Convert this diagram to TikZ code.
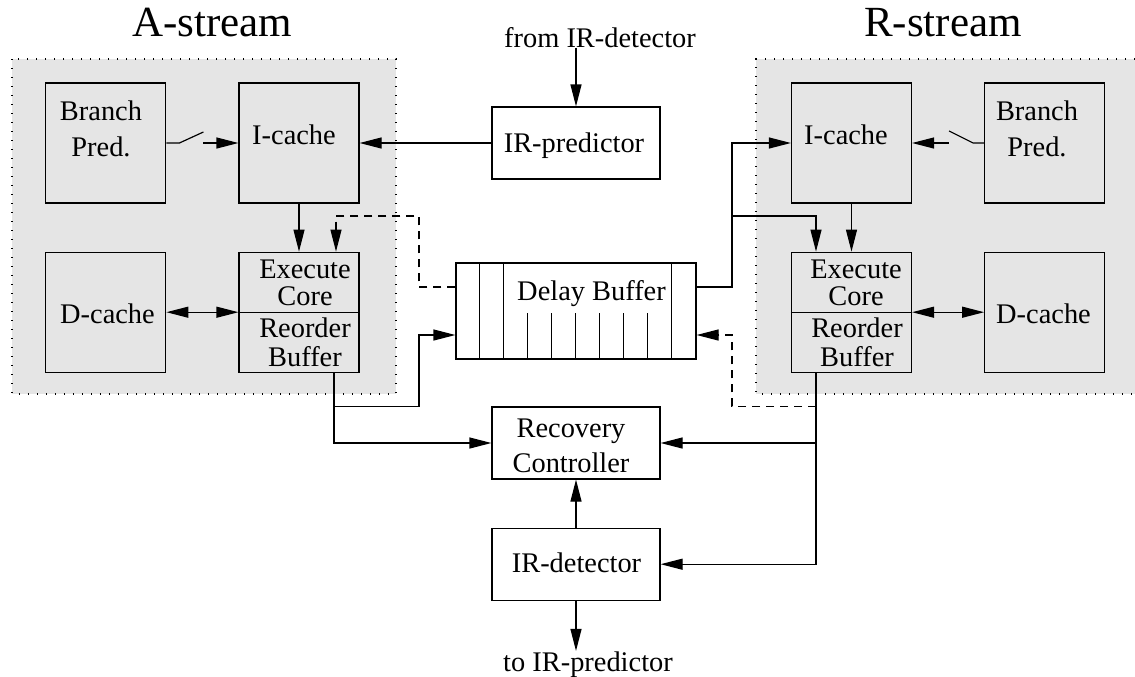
\documentclass[tikz,border=0pt]{standalone}
\usepackage{fontspec}
\setmainfont{Liberation Serif}
\usetikzlibrary{arrows.meta,positioning}
\tikzstyle{unit} = [draw,line width=0.6pt,rectangle,inner sep=0,minimum width=60pt,minimum height=60pt]
\tikzstyle{wide} = [draw,line width=0.6pt,rectangle,inner sep=0,minimum width=84pt,minimum height=36pt]
\tikzstyle{queue} = [draw,line width=0.6pt,rectangle,inner sep=0,minimum width=120pt,minimum height=48pt]
\tikzstyle{txt} = [inner sep=0,anchor=base,align=center,font=\fontsize{14.2pt}{14.2pt}\selectfont]
\tikzstyle{title} = [inner sep=0,anchor=base,font=\fontsize{21.5pt}{21.5pt}\selectfont]
\tikzstyle{wire} = [-,line width=0.6pt]
\tikzstyle{link} = [-{Triangle[length=11pt,width=5.5pt]},line width=0.6pt]
\tikzstyle{both} = [{Triangle[length=11pt,width=5.5pt]}-{Triangle[length=11pt,width=5.5pt]},line width=0.6pt]
\tikzstyle{feedback} = [link,dash pattern=on 4pt off 3pt]
\tikzstyle{region} = [fill=black!10]
\tikzstyle{edge} = [line width=0.6pt,dash pattern=on 0.6pt off 3.9pt]
\def \gap {36pt}
\def \vgap {24pt}

\begin{document}
\begin{tikzpicture}[x=0.5pt,y=-0.5pt]
      \useasboundingbox (0,0) rectangle (1135,676);
      % stream areas
      \fill[region] (12,59) rectangle (396,394);
      \draw[edge] (12,59) rectangle (396,394);
      \fill[region] (756,59) rectangle (1135,394);
      \draw[edge] (1135,59) -- (756,59) -- (756,394) -- (1135,394);
      \node[title] (atitle) at (212,36) {A-stream};
      \node[title] (rtitle) at (943,36) {R-stream};
      % A-stream
      \node[unit] (licache) at (299,143) {};
      \node[unit,left=\gap of licache] (lbp) {};
      \node[unit,below=\vgap of licache] (lexec) {};
      \node[unit,below=\vgap of lbp] (ldcache) {};
      \draw[wire] (lexec.west) -- (lexec.east);
      \node[txt] (lbp-t) at (101,156) {Branch\\[3.8pt]Pred.};
      \node[txt] (licache-t) at (294,144) {I-cache};
      \node[txt] (ldcache-t) at (107.5,323) {D-cache};
      \node[txt] (lexec-t) at (305,305) {Execute\\[-0.7pt]Core};
      \node[txt] (lrob-t) at (305,366) {Reorder\\[0.3pt]Buffer};
      % R-stream
      \node[unit] (ricache) at (851.5,143) {};
      \node[unit,right=\gap of ricache] (rbp) {};
      \node[unit,below=\vgap of ricache] (rexec) {};
      \node[unit,below=\vgap of rbp] (rdcache) {};
      \draw[wire] (rexec.west) -- (rexec.east);
      \node[txt] (rbp-t) at (1037,156) {Branch\\[3.8pt]Pred.};
      \node[txt] (ricache-t) at (846,144) {I-cache};
      \node[txt] (rdcache-t) at (1043.5,323) {D-cache};
      \node[txt] (rexec-t) at (856,305) {Execute\\[-0.7pt]Core};
      \node[txt] (rrob-t) at (857,366) {Reorder\\[0.3pt]Buffer};
      % middle column
      \node[wide] (irpred) at (576,143) {};
      \node[txt] (irpred-t) at (574,152) {IR-predictor};
      \node[txt] (from) at (600,47) {from IR-detector};
      \node[queue] (delay) at (576,311) {};
      \foreach \i in {1,2,9}
        \draw[wire] ([xshift=\i*12pt]delay.south west) -- ([xshift=\i*12pt]delay.north west);
      \foreach \i in {3,...,8}
        \draw[wire] ([xshift=\i*12pt]delay.south west) -- ++(0,-47);
      \node[txt] (delay-t) at (591.5,300) {Delay Buffer};
      \node[wide] (recov) at (576,443) {};
      \node[txt] (recov-t) at (571,472) {Recovery\\[3.3pt]Controller};
      \node[wide,below=\vgap of recov] (irdet) {};
      \node[txt] (irdet-t) at (576.5,572) {IR-detector};
      \node[txt] (to) at (588,671) {to IR-predictor};
      % taps
      \coordinate (lbus) at (419,216);
      \coordinate (ltap) at ([xshift=17.5pt]lexec.south |- recov.north);
      \coordinate (rbus) at (732,216);
      \coordinate (rtap) at ([xshift=-17.75pt]rexec.south |- recov.east);
      \coordinate (rdash) at ([xshift=-17.75pt]rexec.south |- recov.north);
      % switches
      \draw[wire] (lbp.east) -- ++(13,0) -- ++(24,-11);
      \draw[link] ([xshift=-17.5pt]licache.west) -- (licache.west);
      \draw[wire] (rbp.west) -- ++(-11,0) -- ++(-24,-12);
      \draw[link] ([xshift=18.25pt]ricache.east) -- (ricache.east);
      % connections
      \draw[link] (irpred.north |- from.south) -- (irpred.north);
      \draw[link] (irpred) -- (licache);
      \draw[link] (licache) -- (lexec);
      \draw[link] (ricache) -- (rexec);
      \draw[both] (ldcache.east |- lexec.center) -- (lexec.center -| lexec.west);
      \draw[both] (rexec.center -| rexec.east) -- (rdcache.west |- rexec.center);
      \draw[feedback] ([yshift=12pt]delay.west) -| (lbus) -| ([xshift=18.5pt]lexec.north);
      \draw[link] ([xshift=17.5pt]lexec.south) |- (recov);
      \draw[link] (ltap) -| ([yshift=-12pt]delay.west -| lbus) -- ([yshift=-12pt]delay.west);
      \draw[link] ([yshift=12pt]delay.east) -| (rbus) |- (ricache);
      \draw[link] (rbus) -| ([xshift=-17.75pt]rexec.north);
      \draw[link] ([xshift=-17.75pt]rexec.south) |- (irdet);
      \draw[link] (rtap) -- (recov);
      \draw[feedback] (rdash) -| ([yshift=-12pt]delay.east -| rbus) -- ([yshift=-12pt]delay.east);
      \draw[link] (irdet) -- (recov);
      \draw[link] (irdet.south) -- (irdet.south |- to.north);
\end{tikzpicture}
\end{document}
